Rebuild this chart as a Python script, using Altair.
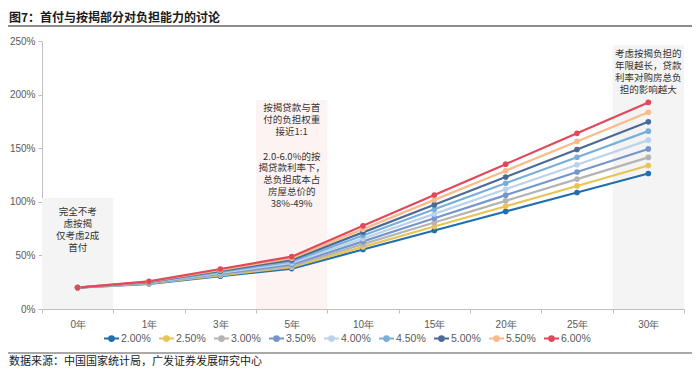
import altair as alt
import pandas as pd

years = ["0年", "1年", "3年", "5年", "10年", "15年", "20年", "25年", "30年"]
rates = ["2.00%", "2.50%", "3.00%", "3.50%", "4.00%", "4.50%", "5.00%", "5.50%", "6.00%"]
colors = ["#1f6fb0", "#e8c454", "#b4b4b4", "#7596cc", "#bcd2ec",
          "#78afd9", "#4b6a98", "#f9bb8a", "#e2485a"]

r200 = [0.200, 0.235, 0.306, 0.377, 0.555, 0.732, 0.910, 1.087, 1.264]
r250 = [0.200, 0.238, 0.314, 0.390, 0.579, 0.769, 0.959, 1.148, 1.338]
r300 = [0.200, 0.240, 0.321, 0.402, 0.605, 0.807, 1.009, 1.212, 1.414]
r350 = [0.200, 0.243, 0.329, 0.416, 0.631, 0.847, 1.062, 1.278, 1.493]
r400 = [0.200, 0.246, 0.337, 0.429, 0.658, 0.887, 1.117, 1.346, 1.575]
r450 = [0.200, 0.249, 0.346, 0.443, 0.686, 0.930, 1.173, 1.416, 1.659]
r500 = [0.200, 0.252, 0.355, 0.458, 0.715, 0.973, 1.231, 1.488, 1.746]
r550 = [0.200, 0.255, 0.364, 0.473, 0.745, 1.018, 1.290, 1.563, 1.835]
r600 = [0.200, 0.258, 0.373, 0.488, 0.776, 1.063, 1.351, 1.639, 1.927]
series = [r200, r250, r300, r350, r400, r450, r500, r550, r600]

band_years = ["0年", "5年", "30年"]
band_tops = [1.035, 1.95, 2.46]
band_colors = ["#f4f4f4", "#fdf3f3", "#f4f4f4"]

note_years = ["0年", "5年", "5年", "30年"]
note_tops = [0.947, 1.917, 1.469, 2.421]
note_texts = [
    "完全不考\n虑按揭\n仅考虑2成\n首付",
    "按揭贷款与首\n付的负担权重\n接近1:1",
    "2.0-6.0%的按\n揭贷款利率下，\n总负担成本占\n房屋总价的\n38%-49%",
    "考虑按揭负担的\n年限越长，贷款\n利率对购房总负\n担的影响越大",
]

title_text = "图7：首付与按揭部分对负担能力的讨论"
source_text = "数据来源：中国国家统计局，广发证券发展研究中心"

rows = []
for rate, vals in zip(rates, series):
    for y, v in zip(years, vals):
        rows.append({"year": y, "rate": rate, "value": v})
df = pd.DataFrame(rows)
bands = pd.DataFrame({"year": band_years, "top": band_tops, "bottom": [0, 0, 0], "c": band_colors})
notes = pd.DataFrame({"year": note_years, "top": note_tops, "text": note_texts})

xscale = alt.Scale(type="band", domain=years, paddingInner=0, paddingOuter=0)
yscale = alt.Scale(domain=[0, 2.5])

xaxis = alt.Axis(title=None, labelAngle=0, tickBand="extent", domainColor="#bfbfbf",
                 tickColor="#bfbfbf", tickSize=4, labelColor="#595959", labelFontSize=10,
                 labelFont="Liberation Sans", labelPadding=6)
yaxis = alt.Axis(title=None, format=".0%", values=[0, 0.5, 1, 1.5, 2, 2.5], grid=False,
                 domainColor="#bfbfbf", tickColor="#bfbfbf", tickSize=4,
                 labelColor="#595959", labelFontSize=10, labelFont="Liberation Sans",
                 labelPadding=3)

rect = alt.Chart(bands).mark_rect().encode(
    x=alt.X("year:N", scale=xscale, axis=xaxis, sort=years),
    y=alt.Y("top:Q", scale=yscale, axis=yaxis),
    y2="bottom:Q",
    color=alt.Color("c:N", scale=None),
)

legend_path = "M-1,0L1,0M-0.32,0a0.32,0.32 0 1,0 0.64,0a0.32,0.32 0 1,0 -0.64,0"
color = alt.Color("rate:N", scale=alt.Scale(domain=rates, range=colors),
                  legend=alt.Legend(orient="none", legendX=61, legendY=289,
                                    direction="horizontal", title=None,
                                    symbolType=legend_path, symbolSize=225,
                                    symbolStrokeWidth=2, labelFontSize=10.5,
                                    labelColor="#595959", labelFont="Liberation Sans",
                                    columnPadding=4, labelOffset=1))

lines = alt.Chart(df).mark_line(strokeWidth=2.2).encode(
    x=alt.X("year:N", scale=xscale, sort=years, bandPosition=0.5),
    y=alt.Y("value:Q", scale=yscale),
    color=color,
    order=alt.Order("rate:N"),
)
points = alt.Chart(df).mark_point(filled=True, size=32, opacity=1).encode(
    x=alt.X("year:N", scale=xscale, sort=years, bandPosition=0.5),
    y=alt.Y("value:Q", scale=yscale),
    color=color,
)

note_layer = alt.Chart(notes).mark_text(
    lineBreak="\n", lineHeight=11.8, baseline="top", align="center",
    font="Noto Sans CJK SC", fontSize=9.5, color="#333333",
).encode(
    x=alt.X("year:N", scale=xscale, sort=years, bandPosition=0.5),
    y=alt.Y("top:Q", scale=yscale),
    text="text:N",
)

one = pd.DataFrame({"t": [title_text], "s": [source_text]})
title = alt.Chart(one).mark_text(align="left", baseline="middle", font="Noto Sans CJK SC",
                                 fontSize=12, fontWeight="bold", color="#1a1a1a").encode(
    x=alt.value(-33), y=alt.value(-23.5), text="t:N")
title_rule = alt.Chart(one).mark_rule(color="#8c8c8c", strokeWidth=2).encode(
    x=alt.value(-34), x2=alt.value(650), y=alt.value(-15))
source_rule = alt.Chart(one).mark_rule(color="#8c8c8c", strokeWidth=1.5).encode(
    x=alt.value(-34), x2=alt.value(650), y=alt.value(312))
source = alt.Chart(one).mark_text(align="left", baseline="middle", font="Noto Sans CJK SC",
                                  fontSize=11, color="#1a1a1a").encode(
    x=alt.value(-33), y=alt.value(321), text="s:N")

chart = alt.layer(rect, lines, points, note_layer, title, title_rule, source_rule, source).properties(
    width=642, height=268,
    autosize=alt.AutoSizeParams(type="none"),
    padding={"left": 34, "top": 33, "right": 8, "bottom": 59},
).configure_view(stroke=None)

chart.save("out.html", embed_options={"renderer": "svg", "actions": False})
